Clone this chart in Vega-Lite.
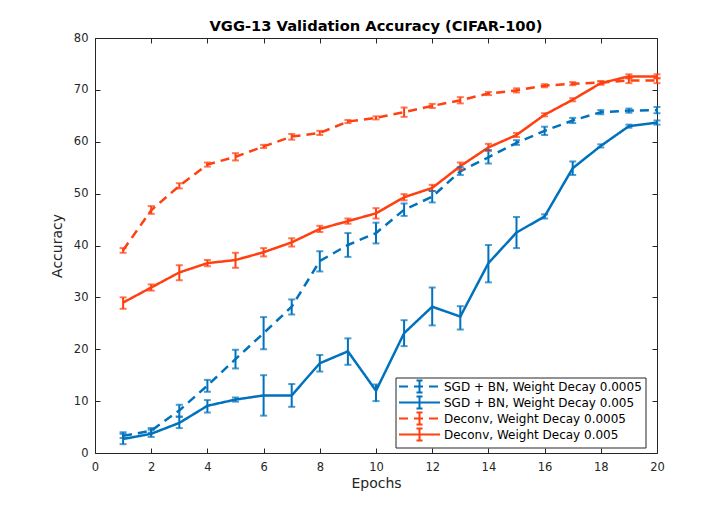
{
  "$schema": "https://vega.github.io/schema/vega-lite/v6.json",
  "width": 562,
  "height": 415,
  "autosize": {"type": "none"},
  "padding": {"left": 95, "top": 38, "right": 69, "bottom": 56},
  "background": "white",
  "title": {
    "text": "VGG-13 Validation Accuracy (CIFAR-100)",
    "font": "DejaVu Sans",
    "fontSize": 14.7,
    "fontWeight": "bold",
    "color": "black",
    "anchor": "middle",
    "offset": -2
  },
  "config": {
    "font": "DejaVu Sans",
    "view": {"stroke": "#262626", "strokeWidth": 1},
    "axis": {
      "grid": false,
      "domain": false,
      "labelFlush": false,
      "labelOverlap": false,
      "tickColor": "#262626",
      "tickWidth": 1,
      "tickSize": -5,
      "labelColor": "#262626",
      "labelFontSize": 11.5,
      "titleColor": "#262626",
      "titleFontSize": 14,
      "titleFontWeight": "normal"
    }
  },
  "data": {
    "values": [
      {"s": "SGD + BN, Weight Decay 0.0005", "epoch": 1, "acc": 3.3, "lo": 2.9, "hi": 3.7},
      {"s": "SGD + BN, Weight Decay 0.0005", "epoch": 2, "acc": 4.3, "lo": 3.9, "hi": 4.8},
      {"s": "SGD + BN, Weight Decay 0.0005", "epoch": 3, "acc": 8.2, "lo": 7.0, "hi": 9.3},
      {"s": "SGD + BN, Weight Decay 0.0005", "epoch": 4, "acc": 13.0, "lo": 11.8, "hi": 14.1},
      {"s": "SGD + BN, Weight Decay 0.0005", "epoch": 5, "acc": 18.1, "lo": 16.3, "hi": 19.9},
      {"s": "SGD + BN, Weight Decay 0.0005", "epoch": 6, "acc": 23.1, "lo": 20.0, "hi": 26.2},
      {"s": "SGD + BN, Weight Decay 0.0005", "epoch": 7, "acc": 28.2, "lo": 26.7, "hi": 29.6},
      {"s": "SGD + BN, Weight Decay 0.0005", "epoch": 8, "acc": 37.0, "lo": 35.0, "hi": 38.9},
      {"s": "SGD + BN, Weight Decay 0.0005", "epoch": 9, "acc": 40.1, "lo": 37.8, "hi": 42.4},
      {"s": "SGD + BN, Weight Decay 0.0005", "epoch": 10, "acc": 42.4, "lo": 40.4, "hi": 44.4},
      {"s": "SGD + BN, Weight Decay 0.0005", "epoch": 11, "acc": 46.9, "lo": 45.7, "hi": 48.1},
      {"s": "SGD + BN, Weight Decay 0.0005", "epoch": 12, "acc": 49.4, "lo": 48.3, "hi": 50.5},
      {"s": "SGD + BN, Weight Decay 0.0005", "epoch": 13, "acc": 54.3, "lo": 53.6, "hi": 55.1},
      {"s": "SGD + BN, Weight Decay 0.0005", "epoch": 14, "acc": 57.0, "lo": 55.8, "hi": 58.4},
      {"s": "SGD + BN, Weight Decay 0.0005", "epoch": 15, "acc": 59.8, "lo": 59.4, "hi": 60.3},
      {"s": "SGD + BN, Weight Decay 0.0005", "epoch": 16, "acc": 62.1, "lo": 61.3, "hi": 62.9},
      {"s": "SGD + BN, Weight Decay 0.0005", "epoch": 17, "acc": 64.1, "lo": 63.6, "hi": 64.6},
      {"s": "SGD + BN, Weight Decay 0.0005", "epoch": 18, "acc": 65.7, "lo": 65.3, "hi": 66.1},
      {"s": "SGD + BN, Weight Decay 0.0005", "epoch": 19, "acc": 66.0, "lo": 65.6, "hi": 66.4},
      {"s": "SGD + BN, Weight Decay 0.0005", "epoch": 20, "acc": 66.1, "lo": 65.5, "hi": 66.7},
      {"s": "SGD + BN, Weight Decay 0.005", "epoch": 1, "acc": 2.7, "lo": 1.7, "hi": 4.0},
      {"s": "SGD + BN, Weight Decay 0.005", "epoch": 2, "acc": 3.7, "lo": 3.1, "hi": 4.5},
      {"s": "SGD + BN, Weight Decay 0.005", "epoch": 3, "acc": 5.8, "lo": 4.8, "hi": 7.0},
      {"s": "SGD + BN, Weight Decay 0.005", "epoch": 4, "acc": 9.1, "lo": 7.8, "hi": 10.2},
      {"s": "SGD + BN, Weight Decay 0.005", "epoch": 5, "acc": 10.3, "lo": 9.9, "hi": 10.7},
      {"s": "SGD + BN, Weight Decay 0.005", "epoch": 6, "acc": 11.1, "lo": 7.2, "hi": 15.0},
      {"s": "SGD + BN, Weight Decay 0.005", "epoch": 7, "acc": 11.1, "lo": 8.9, "hi": 13.3},
      {"s": "SGD + BN, Weight Decay 0.005", "epoch": 8, "acc": 17.3, "lo": 15.7, "hi": 18.9},
      {"s": "SGD + BN, Weight Decay 0.005", "epoch": 9, "acc": 19.6, "lo": 17.0, "hi": 22.1},
      {"s": "SGD + BN, Weight Decay 0.005", "epoch": 10, "acc": 12.0, "lo": 10.0, "hi": 13.2},
      {"s": "SGD + BN, Weight Decay 0.005", "epoch": 11, "acc": 23.1, "lo": 20.6, "hi": 25.6},
      {"s": "SGD + BN, Weight Decay 0.005", "epoch": 12, "acc": 28.2, "lo": 24.6, "hi": 31.9},
      {"s": "SGD + BN, Weight Decay 0.005", "epoch": 13, "acc": 26.3, "lo": 23.8, "hi": 28.3},
      {"s": "SGD + BN, Weight Decay 0.005", "epoch": 14, "acc": 36.6, "lo": 32.9, "hi": 40.1},
      {"s": "SGD + BN, Weight Decay 0.005", "epoch": 15, "acc": 42.5, "lo": 39.5, "hi": 45.5},
      {"s": "SGD + BN, Weight Decay 0.005", "epoch": 16, "acc": 45.6, "lo": 45.2, "hi": 46.0},
      {"s": "SGD + BN, Weight Decay 0.005", "epoch": 17, "acc": 54.9, "lo": 53.6, "hi": 56.2},
      {"s": "SGD + BN, Weight Decay 0.005", "epoch": 18, "acc": 59.2, "lo": 58.9, "hi": 59.5},
      {"s": "SGD + BN, Weight Decay 0.005", "epoch": 19, "acc": 63.0, "lo": 62.7, "hi": 63.3},
      {"s": "SGD + BN, Weight Decay 0.005", "epoch": 20, "acc": 63.7, "lo": 63.3, "hi": 64.1},
      {"s": "Deconv, Weight Decay 0.0005", "epoch": 1, "acc": 39.1, "lo": 38.6, "hi": 39.5},
      {"s": "Deconv, Weight Decay 0.0005", "epoch": 2, "acc": 46.8, "lo": 46.1, "hi": 47.6},
      {"s": "Deconv, Weight Decay 0.0005", "epoch": 3, "acc": 51.5, "lo": 51.0, "hi": 52.0},
      {"s": "Deconv, Weight Decay 0.0005", "epoch": 4, "acc": 55.6, "lo": 55.2, "hi": 56.0},
      {"s": "Deconv, Weight Decay 0.0005", "epoch": 5, "acc": 57.1, "lo": 56.4, "hi": 57.8},
      {"s": "Deconv, Weight Decay 0.0005", "epoch": 6, "acc": 59.1, "lo": 58.8, "hi": 59.4},
      {"s": "Deconv, Weight Decay 0.0005", "epoch": 7, "acc": 61.0, "lo": 60.4, "hi": 61.5},
      {"s": "Deconv, Weight Decay 0.0005", "epoch": 8, "acc": 61.7, "lo": 61.3, "hi": 62.1},
      {"s": "Deconv, Weight Decay 0.0005", "epoch": 9, "acc": 63.9, "lo": 63.6, "hi": 64.2},
      {"s": "Deconv, Weight Decay 0.0005", "epoch": 10, "acc": 64.6, "lo": 64.3, "hi": 64.9},
      {"s": "Deconv, Weight Decay 0.0005", "epoch": 11, "acc": 65.7, "lo": 64.8, "hi": 66.6},
      {"s": "Deconv, Weight Decay 0.0005", "epoch": 12, "acc": 66.9, "lo": 66.5, "hi": 67.3},
      {"s": "Deconv, Weight Decay 0.0005", "epoch": 13, "acc": 68.0, "lo": 67.4, "hi": 68.6},
      {"s": "Deconv, Weight Decay 0.0005", "epoch": 14, "acc": 69.3, "lo": 69.0, "hi": 69.6},
      {"s": "Deconv, Weight Decay 0.0005", "epoch": 15, "acc": 69.9, "lo": 69.5, "hi": 70.3},
      {"s": "Deconv, Weight Decay 0.0005", "epoch": 16, "acc": 70.8, "lo": 70.5, "hi": 71.1},
      {"s": "Deconv, Weight Decay 0.0005", "epoch": 17, "acc": 71.2, "lo": 70.9, "hi": 71.5},
      {"s": "Deconv, Weight Decay 0.0005", "epoch": 18, "acc": 71.4, "lo": 71.1, "hi": 71.7},
      {"s": "Deconv, Weight Decay 0.0005", "epoch": 19, "acc": 71.8, "lo": 71.3, "hi": 72.3},
      {"s": "Deconv, Weight Decay 0.0005", "epoch": 20, "acc": 71.8, "lo": 71.3, "hi": 72.3},
      {"s": "Deconv, Weight Decay 0.005", "epoch": 1, "acc": 29.0, "lo": 27.8, "hi": 30.0},
      {"s": "Deconv, Weight Decay 0.005", "epoch": 2, "acc": 31.9, "lo": 31.3, "hi": 32.5},
      {"s": "Deconv, Weight Decay 0.005", "epoch": 3, "acc": 34.8, "lo": 33.3, "hi": 36.2},
      {"s": "Deconv, Weight Decay 0.005", "epoch": 4, "acc": 36.6, "lo": 36.0, "hi": 37.2},
      {"s": "Deconv, Weight Decay 0.005", "epoch": 5, "acc": 37.2, "lo": 35.7, "hi": 38.6},
      {"s": "Deconv, Weight Decay 0.005", "epoch": 6, "acc": 38.7, "lo": 37.9, "hi": 39.5},
      {"s": "Deconv, Weight Decay 0.005", "epoch": 7, "acc": 40.6, "lo": 39.8, "hi": 41.4},
      {"s": "Deconv, Weight Decay 0.005", "epoch": 8, "acc": 43.2, "lo": 42.6, "hi": 43.8},
      {"s": "Deconv, Weight Decay 0.005", "epoch": 9, "acc": 44.7, "lo": 44.2, "hi": 45.2},
      {"s": "Deconv, Weight Decay 0.005", "epoch": 10, "acc": 46.2, "lo": 45.2, "hi": 47.2},
      {"s": "Deconv, Weight Decay 0.005", "epoch": 11, "acc": 49.3, "lo": 48.7, "hi": 49.9},
      {"s": "Deconv, Weight Decay 0.005", "epoch": 12, "acc": 51.1, "lo": 50.5, "hi": 51.7},
      {"s": "Deconv, Weight Decay 0.005", "epoch": 13, "acc": 55.3, "lo": 54.6, "hi": 56.0},
      {"s": "Deconv, Weight Decay 0.005", "epoch": 14, "acc": 58.9, "lo": 58.2, "hi": 59.6},
      {"s": "Deconv, Weight Decay 0.005", "epoch": 15, "acc": 61.3, "lo": 60.9, "hi": 61.7},
      {"s": "Deconv, Weight Decay 0.005", "epoch": 16, "acc": 65.2, "lo": 64.9, "hi": 65.5},
      {"s": "Deconv, Weight Decay 0.005", "epoch": 17, "acc": 68.1, "lo": 67.8, "hi": 68.4},
      {"s": "Deconv, Weight Decay 0.005", "epoch": 18, "acc": 71.3, "lo": 71.0, "hi": 71.6},
      {"s": "Deconv, Weight Decay 0.005", "epoch": 19, "acc": 72.6, "lo": 72.2, "hi": 73.0},
      {"s": "Deconv, Weight Decay 0.005", "epoch": 20, "acc": 72.6, "lo": 72.2, "hi": 73.0}
    ]
  },
  "layer": [
    {
      "mark": {"type": "line", "strokeWidth": 2.5},
      "encoding": {
        "x": {
          "field": "epoch",
          "type": "quantitative",
          "scale": {"domain": [0, 20], "nice": false},
          "axis": {"title": "Epochs", "values": [0, 2, 4, 6, 8, 10, 12, 14, 16, 18, 20], "labelPadding": 13, "titlePadding": 4}
        },
        "y": {
          "field": "acc",
          "type": "quantitative",
          "scale": {"domain": [0, 80], "nice": false},
          "axis": {"title": "Accuracy", "values": [0, 10, 20, 30, 40, 50, 60, 70, 80], "labelPadding": 12, "titlePadding": 9}
        },
        "color": {
          "field": "s",
          "type": "nominal",
          "sort": null,
          "scale": {
            "domain": ["SGD + BN, Weight Decay 0.0005", "SGD + BN, Weight Decay 0.005", "Deconv, Weight Decay 0.0005", "Deconv, Weight Decay 0.005"],
            "range": ["#0072BD", "#0072BD", "#FF4010", "#FF4010"]
          },
          "legend": {
            "title": null,
            "orient": "none",
            "legendX": 300.5,
            "legendY": 339.5,
            "symbolType": "M-1.1,0H7.1M3,-1.2V0M3,0V1.2M2.4,-1.2H3.6M2.4,1.2H3.6",
            "symbolSize": 100,
            "symbolStrokeWidth": 2,
            "symbolFillColor": "transparent",
            "labelFontSize": 12,
            "labelColor": "black",
            "labelOffset": 33.5,
            "labelLimit": 300,
            "rowPadding": -6.1,
            "padding": 3,
            "strokeColor": "#262626",
            "fillColor": "white"
          }
        },
        "strokeDash": {
          "field": "s",
          "type": "nominal",
          "sort": null,
          "scale": {
            "domain": ["SGD + BN, Weight Decay 0.0005", "SGD + BN, Weight Decay 0.005", "Deconv, Weight Decay 0.0005", "Deconv, Weight Decay 0.005"],
            "range": [[9, 6], [1, 0], [9, 6], [1, 0]]
          },
          "legend": {
            "title": null,
            "orient": "none",
            "legendX": 300.5,
            "legendY": 339.5,
            "symbolType": "M-1.1,0H7.1M3,-1.2V0M3,0V1.2M2.4,-1.2H3.6M2.4,1.2H3.6",
            "symbolSize": 100,
            "symbolStrokeWidth": 2,
            "symbolFillColor": "transparent",
            "labelFontSize": 12,
            "labelColor": "black",
            "labelOffset": 33.5,
            "labelLimit": 300,
            "rowPadding": -6.1,
            "padding": 3,
            "strokeColor": "#262626",
            "fillColor": "white"
          }
        }
      }
    },
    {
      "mark": {"type": "rule", "strokeWidth": 2},
      "encoding": {
        "x": {
          "field": "epoch",
          "type": "quantitative",
          "axis": {"orient": "top", "labels": false, "title": null, "values": [0, 2, 4, 6, 8, 10, 12, 14, 16, 18, 20]}
        },
        "y": {
          "field": "lo",
          "type": "quantitative",
          "axis": {"orient": "right", "labels": false, "title": null, "values": [0, 10, 20, 30, 40, 50, 60, 70, 80]}
        },
        "y2": {"field": "hi"},
        "color": {"field": "s", "type": "nominal", "sort": null, "legend": null}
      }
    },
    {
      "mark": {"type": "tick", "orient": "horizontal", "thickness": 2},
      "encoding": {
        "x": {"field": "epoch", "type": "quantitative", "axis": null},
        "y": {"field": "lo", "type": "quantitative", "axis": null},
        "size": {"value": 7},
        "color": {"field": "s", "type": "nominal", "sort": null, "legend": null}
      }
    },
    {
      "mark": {"type": "tick", "orient": "horizontal", "thickness": 2},
      "encoding": {
        "x": {"field": "epoch", "type": "quantitative", "axis": null},
        "y": {"field": "hi", "type": "quantitative", "axis": null},
        "size": {"value": 7},
        "color": {"field": "s", "type": "nominal", "sort": null, "legend": null}
      }
    }
  ],
  "resolve": {"axis": {"x": "independent", "y": "independent"}}
}
